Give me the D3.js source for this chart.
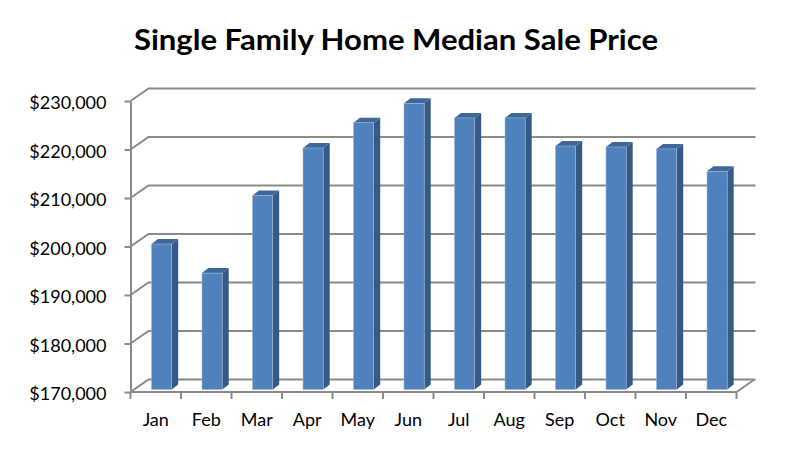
<!DOCTYPE html>
<html>
<head>
<meta charset="utf-8">
<script src="https://cdn.jsdelivr.net/npm/d3@7"></script>
<style>
  body { margin: 0; background: #fff; }
  text { font-family: Lato, "Open Sans", sans-serif; fill: #000; }
</style>
</head>
<body>
<div id="chart"></div>
<script>
var months = ["Jan", "Feb", "Mar", "Apr", "May", "Jun", "Jul", "Aug", "Sep", "Oct", "Nov", "Dec"];
var prices = [200000, 194000, 210000, 219800, 225000, 229000, 226000, 226000, 220200, 220000, 219600, 215000];
var yTicks = [170000, 180000, 190000, 200000, 210000, 220000, 230000];

var W = 794, H = 449;
var plotLeft = 130.5, plotRight = 736.5, plotBottom = 392, plotTop = 101;
var depth = {dx: 18, dy: -12.5};      // wall depth
var barDepth = {dx: 6.5, dy: -5};     // column depth
var barShift = {dx: 21, dy: -2.5};    // columns sit a little back in the floor

var svg = d3.select("#chart").append("svg")
    .attr("width", W)
    .attr("height", H);

var x = d3.scaleBand()
    .domain(months)
    .range([plotLeft, plotRight])
    .padding(0);

var y = d3.scaleLinear()
    .domain([170000, 230000])
    .range([plotBottom, plotTop]);

var gridColor = "#8a8a8a";

// title
svg.append("text")
    .attr("x", 396)
    .attr("y", 50)
    .attr("text-anchor", "middle")
    .attr("textLength", 524)
    .attr("lengthAdjust", "spacingAndGlyphs")
    .style("font-size", "29px")
    .style("font-weight", "bold")
    .text("Single Family Home Median Sale Price");

// gridlines: side-wall diagonal + back-wall horizontal
var grid = svg.append("g");
grid.selectAll("path")
    .data(yTicks)
    .enter()
    .append("path")
    .attr("fill", "none")
    .attr("stroke", gridColor)
    .attr("stroke-width", 2)
    .attr("d", function(d) {
        return "M" + plotLeft + "," + y(d) +
               "L" + (plotLeft + depth.dx) + "," + (y(d) + depth.dy) +
               "L" + (plotRight + depth.dx + 1) + "," + (y(d) + depth.dy);
    });

// floor right edge
grid.append("path")
    .attr("fill", "none")
    .attr("stroke", gridColor)
    .attr("stroke-width", 2)
    .attr("d", "M" + plotRight + "," + plotBottom + "L" + (plotRight + depth.dx) + "," + (plotBottom + depth.dy));

// columns
var bars = svg.append("g")
  .selectAll("g")
  .data(months)
  .enter()
  .append("g");

function bx(d) { return x(d) + barShift.dx; }
function by(d, i) { return y(prices[i]) + barShift.dy; }
var bw = x.bandwidth() * 0.4;
var baseY = plotBottom + barShift.dy;

bars.append("path")       // side face
    .attr("fill", "#365a86")
    .attr("d", function(d, i) {
        var x1 = bx(d) + bw, t = by(d, i);
        return "M" + x1 + "," + t +
               "L" + (x1 + barDepth.dx) + "," + (t + barDepth.dy) +
               "L" + (x1 + barDepth.dx) + "," + (baseY + barDepth.dy) +
               "L" + x1 + "," + baseY + "Z";
    });

bars.append("path")       // top face
    .attr("fill", "#3e679a")
    .attr("d", function(d, i) {
        var x0 = bx(d), t = by(d, i);
        return "M" + x0 + "," + t +
               "L" + (x0 + barDepth.dx) + "," + (t + barDepth.dy) +
               "L" + (x0 + bw + barDepth.dx) + "," + (t + barDepth.dy) +
               "L" + (x0 + bw) + "," + t + "Z";
    });

bars.append("rect")       // front face
    .attr("x", function(d) { return bx(d); })
    .attr("y", function(d, i) { return by(d, i); })
    .attr("width", bw)
    .attr("height", function(d, i) { return baseY - by(d, i); })
    .attr("fill", "#4f81bd")
    .attr("stroke", "#9fb8d8")
    .attr("stroke-width", 0.6);

// y axis
var yAxis = svg.append("g")
    .attr("transform", "translate(" + plotLeft + ",0)")
    .call(d3.axisLeft(y)
        .tickValues(yTicks)
        .tickFormat(d3.format("$,"))
        .tickSize(6)
        .tickSizeOuter(0)
        .tickPadding(18));
yAxis.select(".domain").attr("stroke", gridColor).attr("stroke-width", 2);
yAxis.selectAll(".tick line").attr("stroke", gridColor).attr("stroke-width", 2);
yAxis.selectAll(".tick text")
    .attr("dy", "0.42em")
    .style("font-size", "18px")
    .style("font-family", "Lato, sans-serif");

// x axis: labels at band centres, ticks at band edges
var xAxis = svg.append("g")
    .attr("transform", "translate(0," + plotBottom + ")")
    .call(d3.axisBottom(x).tickSize(0).tickPadding(21));
xAxis.select(".domain").remove();
xAxis.selectAll(".tick text")
    .style("font-size", "18px")
    .style("font-family", "Lato, sans-serif");

svg.append("line")
    .attr("x1", plotLeft).attr("x2", plotRight)
    .attr("y1", plotBottom).attr("y2", plotBottom)
    .attr("stroke", gridColor)
    .attr("stroke-width", 2);

svg.append("g")
  .selectAll("line")
  .data(months.concat(["end"]))
  .enter()
  .append("line")
    .attr("x1", function(d) { return d === "end" ? plotRight : x(d); })
    .attr("x2", function(d) { return d === "end" ? plotRight : x(d); })
    .attr("y1", plotBottom)
    .attr("y2", plotBottom + 7)
    .attr("stroke", gridColor)
    .attr("stroke-width", 2);
</script>
</body>
</html>
